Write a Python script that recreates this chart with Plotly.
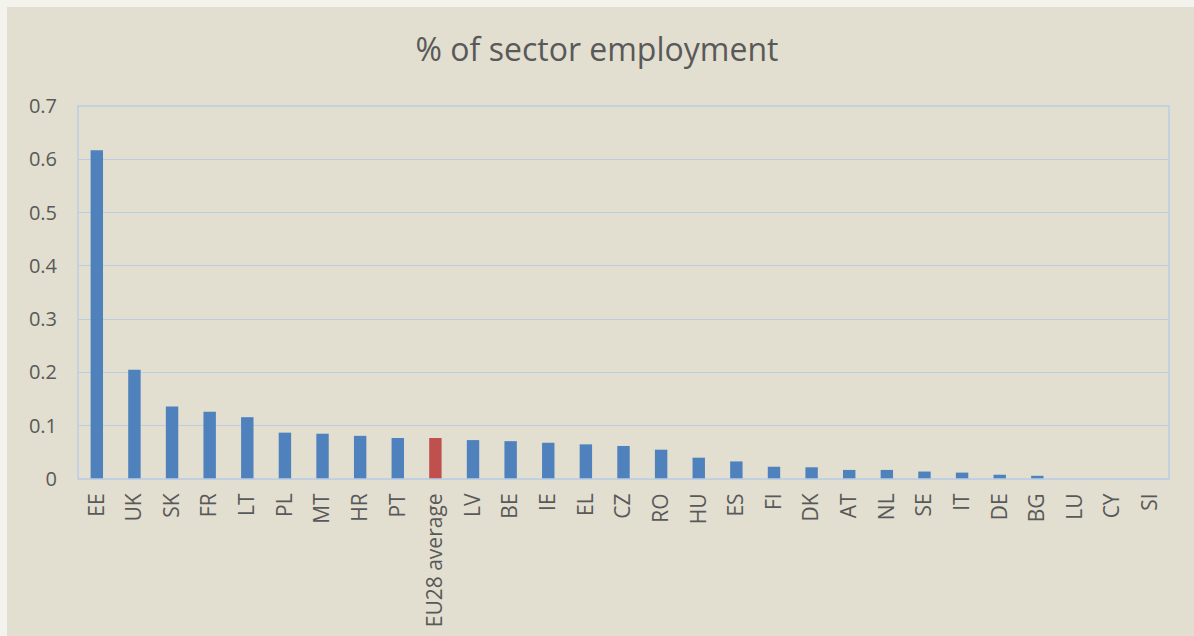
import plotly.graph_objects as go

countries = ["EE", "UK", "SK", "FR", "LT", "PL", "MT", "HR", "PT", "EU28 average",
             "LV", "BE", "IE", "EL", "CZ", "RO", "HU", "ES", "FI", "DK", "AT", "NL",
             "SE", "IT", "DE", "BG", "LU", "CY", "SI"]
values = [0.617, 0.205, 0.136, 0.126, 0.116, 0.087, 0.085, 0.081, 0.077, 0.077,
          0.073, 0.071, 0.068, 0.065, 0.062, 0.055, 0.040, 0.033, 0.023, 0.022,
          0.017, 0.017, 0.014, 0.012, 0.008, 0.006, 0.0, 0.0, 0.0]
y_ticks = [0, 0.1, 0.2, 0.3, 0.4, 0.5, 0.6, 0.7]
tick_text = ["0", "0.1", "0.2", "0.3", "0.4", "0.5", "0.6", "0.7"]

colors = ["#C0504D" if c == "EU28 average" else "#4F81BD" for c in countries]

W, H = 1194, 636
L, R, T, B = 78, 25, 106, 157
pw, ph = W - L - R, H - T - B

def px_x(px):
    return (px - L) / pw

def px_y(py):
    return (H - B - py) / ph

fig = go.Figure(go.Bar(
    x=countries, y=values, marker=dict(color=colors, line=dict(width=0)),
    width=0.33,
))

fig.update_layout(
    width=W, height=H,
    margin=dict(l=L, r=R, t=T, b=B, autoexpand=False),
    paper_bgcolor="#F3F2EC",
    plot_bgcolor="rgba(0,0,0,0)",
    showlegend=False,
    title=dict(text="% of sector employment", x=0.5, xanchor="center",
               y=1 - 50 / H, yanchor="middle",
               font=dict(family="Open Sans", size=32, color="#595959")),
    font=dict(family="Open Sans", size=20, color="#595959"),
    xaxis=dict(tickangle=-90, showgrid=False, showline=True, linecolor="#D3D3D3",
               linewidth=1, ticks="", tickfont=dict(size=21, color="#595959"),
               ticklabelstandoff=5, automargin=False,
               range=[-0.5, len(countries) - 0.5]),
    yaxis=dict(range=[0, 0.7], tickvals=y_ticks, ticktext=tick_text,
               showgrid=True, gridcolor="#B9CDE5", gridwidth=1, zeroline=False,
               showline=False, ticks="", tickfont=dict(size=20, color="#595959"),
               ticklabelstandoff=20, automargin=False),
    shapes=[
        dict(type="rect", xref="paper", yref="paper", layer="below",
             x0=px_x(7), x1=px_x(W + 2), y0=px_y(H + 2), y1=px_y(7),
             fillcolor="#E2DFD0", line=dict(width=0)),
        dict(type="rect", xref="paper", yref="paper", layer="above",
             x0=0, x1=1, y0=0, y1=1, fillcolor="rgba(0,0,0,0)",
             line=dict(color="#B9CDE5", width=1.5)),
    ],
)

fig.write_html("out.html")
